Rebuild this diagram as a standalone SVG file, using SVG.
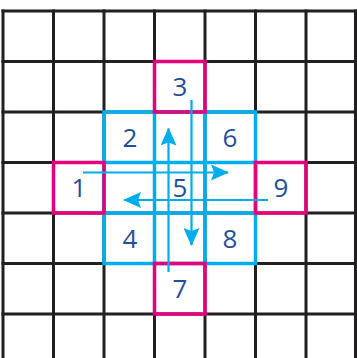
<svg xmlns="http://www.w3.org/2000/svg" width="357" height="358" viewBox="0 0 357 358">
<defs>
<style>
.grid{stroke:#231f20;stroke-width:3;fill:none}
.blue{stroke:#00aeef;stroke-width:3.5;fill:none;stroke-linecap:square}
.mag{stroke:#e6007e;stroke-width:3.5;fill:none}
.shaft{stroke:#00aeef;stroke-width:2.2;fill:none}
.num{font-family:"Open Sans","Noto Sans",sans-serif;font-size:26px;fill:#1d4f9c;text-anchor:middle}
</style>
<marker id="ah" viewBox="0 0 18 16" refX="17" refY="8" markerWidth="18" markerHeight="16" markerUnits="userSpaceOnUse" orient="auto">
<path d="M0,0 L18,8 L0,16 L3,8 Z" fill="#00aeef"/>
</marker>
</defs>
<rect width="357" height="358" fill="#ffffff"/>
<g id="grid" class="grid">
<path d="M3,9.5V358 M53.5,9.5V358 M104,9.5V358 M154.5,9.5V358 M205,9.5V358 M255.5,9.5V358 M306,9.5V358 M355.5,9.5V358"/>
<path d="M1.5,11H357 M1.5,61.5H357 M1.5,112H357 M1.5,162.5H357 M1.5,213H357 M1.5,263.5H357 M1.5,314H357"/>
</g>
<g id="blue-cells" class="blue">
<path d="M104,112H255.5 M104,162.5H255.5 M104,213H255.5 M104,263.5H255.5 M104,112V263.5 M154.5,112V263.5 M205,112V263.5 M255.5,112V263.5"/>
</g>
<g id="node-3"><rect class="mag" x="154.5" y="61.5" width="50.5" height="50.5"/><text class="num" x="180" y="96">3</text></g>
<g id="node-1"><rect class="mag" x="53.5" y="162.5" width="50.5" height="50.5"/><text class="num" x="79" y="197">1</text></g>
<g id="node-9"><rect class="mag" x="255.5" y="162.5" width="50.5" height="50.5"/><text class="num" x="281" y="197">9</text></g>
<g id="node-7"><rect class="mag" x="154.5" y="263.5" width="50.5" height="50.5"/><text class="num" x="180" y="298">7</text></g>
<g id="node-2"><text class="num" x="130" y="146.5">2</text></g>
<g id="node-6"><text class="num" x="230" y="146.5">6</text></g>
<g id="node-5"><text class="num" x="180" y="197">5</text></g>
<g id="node-4"><text class="num" x="130" y="247.5">4</text></g>
<g id="node-8"><text class="num" x="230" y="247.5">8</text></g>
<g id="connectors" class="shaft">
<line x1="83" y1="172.5" x2="228" y2="172.5" marker-end="url(#ah)"/>
<line x1="268" y1="200" x2="124" y2="200" marker-end="url(#ah)"/>
<line x1="168.5" y1="272" x2="168.5" y2="128.5" marker-end="url(#ah)"/>
<line x1="191.5" y1="100" x2="191.5" y2="245" marker-end="url(#ah)"/>
</g>
</svg>
